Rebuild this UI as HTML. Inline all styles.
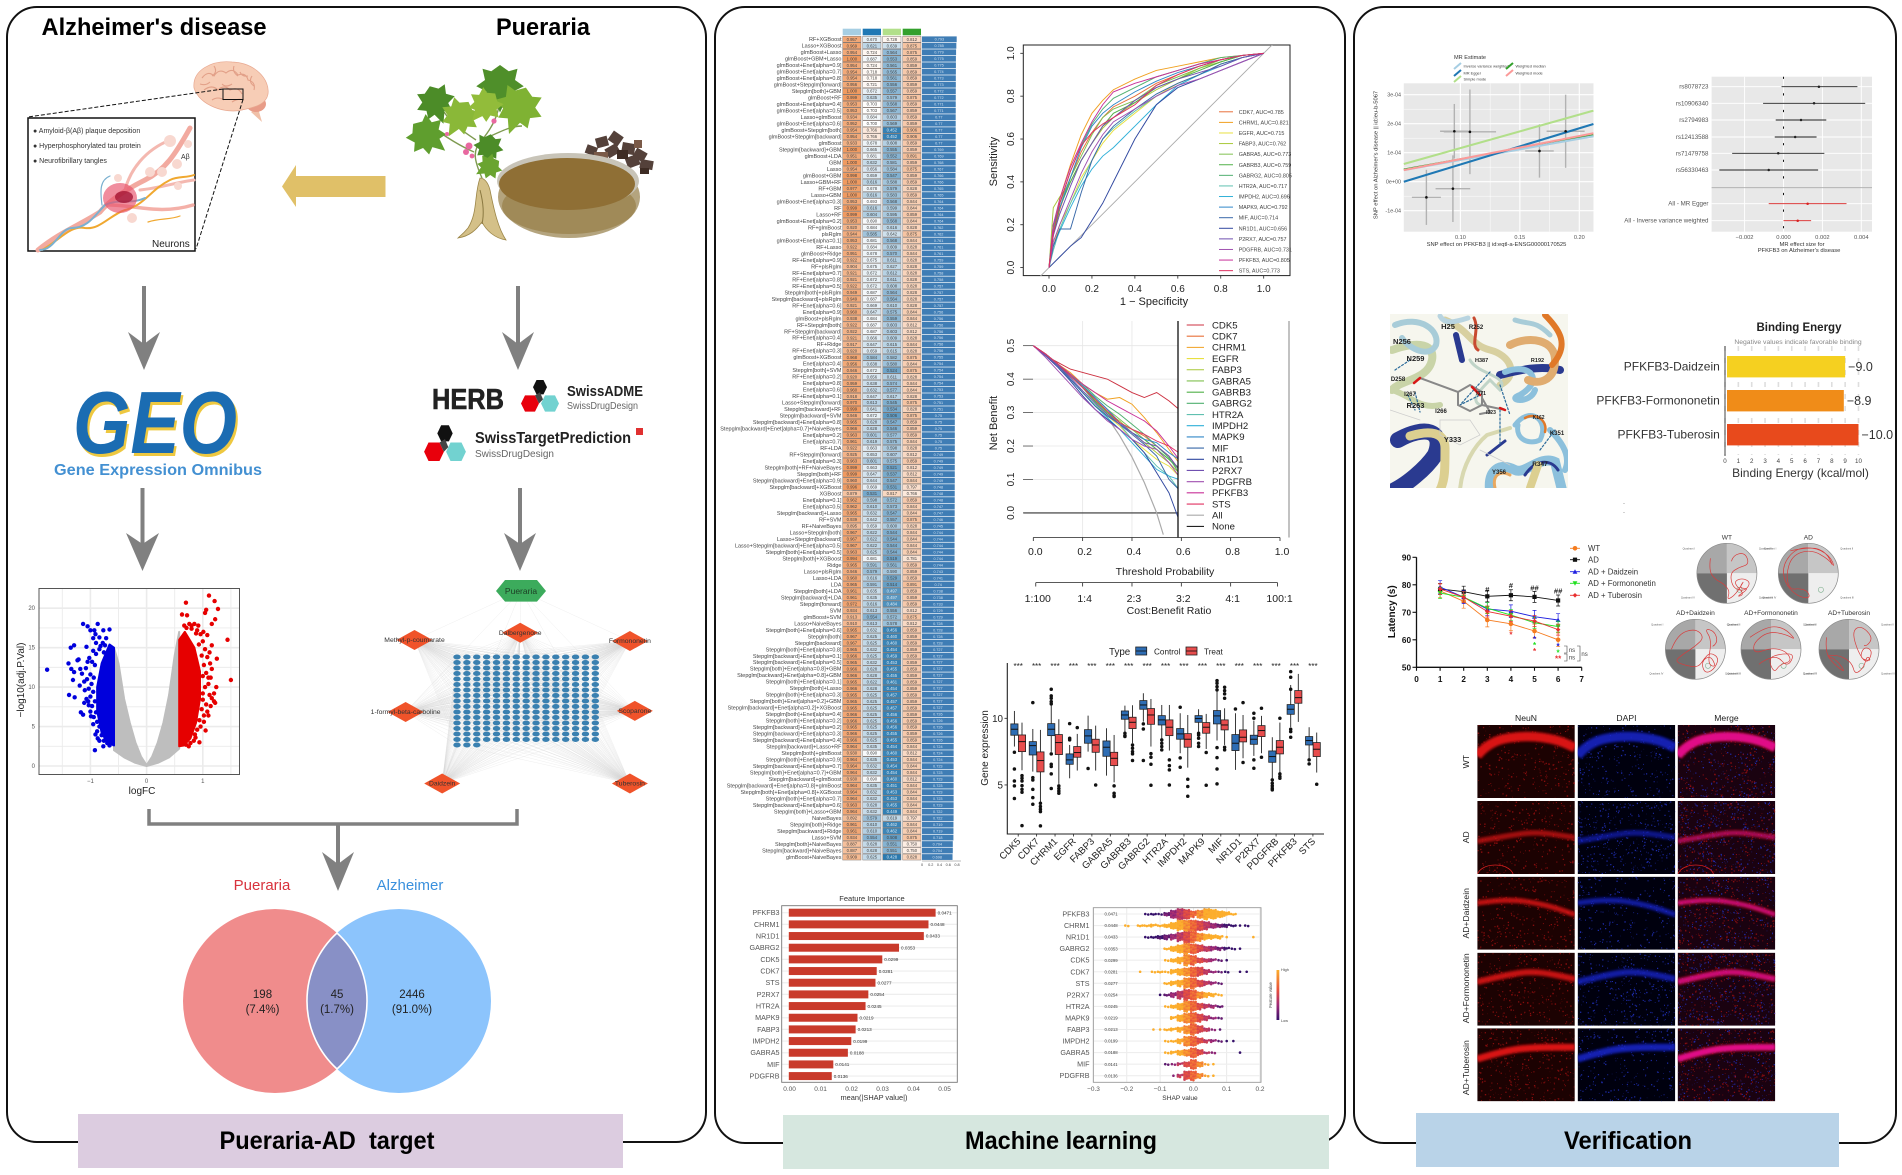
<!DOCTYPE html>
<html lang="en">
<head>
<meta charset="utf-8">
<title>Pueraria-AD target, machine learning and verification figure</title>
<style>
html,body{margin:0;padding:0;background:#fff;}
svg{display:block;font-family:"Liberation Sans",Arial,sans-serif;}
</style>
</head>
<body>
<svg id="figure" xmlns="http://www.w3.org/2000/svg" width="1902" height="1175" viewBox="0 0 1902 1175">
<defs>
<filter id="blur1" x="-20%" y="-50%" width="140%" height="200%"><feGaussianBlur stdDeviation="1"/></filter>
<linearGradient id="shap-gradient" x1="0" y1="0" x2="0" y2="1"><stop offset="0" stop-color="#fcae2c"/><stop offset=".4" stop-color="#e8503c"/><stop offset=".7" stop-color="#a02a78"/><stop offset="1" stop-color="#35106a"/></linearGradient>
<path id="leaf-shape" d="M0,-20 L7,-15 L14,-17 L12,-8 L19,-3 L11,1 L12,9 L5,7 L0,18 L-5,7 L-12,9 L-11,1 L-19,-3 L-12,-8 L-14,-17 L-7,-15 Z"/>
<g id="swiss-logo"><polygon points="13,9 16.5,2 23.5,2 27,9 23.5,16 16.5,16" fill="#111"/><polygon points="1,25 5,17 15,17 19,25 15,33 5,33" fill="#e8000c"/><polygon points="21,25 25,17 35,17 39,25 35,33 25,33" fill="#72d2d0"/><polygon points="15,17 20,14 23,21 19,25" fill="#444"/></g>
<clipPath id="dock-clip"><rect x="1390" y="314" width="178" height="174"/></clipPath>
<clipPath id="roc-clip"><rect x="1023" y="45" width="267" height="231"/></clipPath>
</defs>
<rect width="1902" height="1175" fill="#fff"/>

<rect x="7" y="7" width="699" height="1135" rx="30" fill="#fff" stroke="#111" stroke-width="2"/>
<rect x="715" y="7" width="630" height="1136" rx="30" fill="#fff" stroke="#111" stroke-width="2"/>
<rect x="1354" y="7" width="542" height="1136" rx="30" fill="#fff" stroke="#111" stroke-width="2"/>

<g>
<rect x="78" y="1114" width="545" height="54" fill="#dccce0"/>
<text x="327" y="1149" text-anchor="middle" font-size="25" font-weight="700" textLength="215" lengthAdjust="spacingAndGlyphs" xml:space="preserve">Pueraria-AD  target</text>
<rect x="783" y="1115" width="546" height="54" fill="#d6e7df"/>
<text x="1061" y="1149" text-anchor="middle" font-size="25" font-weight="700" textLength="192" lengthAdjust="spacingAndGlyphs">Machine learning</text>
<rect x="1416" y="1113" width="423" height="54" fill="#b9d3e8"/>
<text x="1628" y="1149" text-anchor="middle" font-size="25" font-weight="700" textLength="128" lengthAdjust="spacingAndGlyphs">Verification</text>
</g>

<text x="154" y="35" text-anchor="middle" font-size="24" font-weight="700" textLength="225" lengthAdjust="spacingAndGlyphs">Alzheimer's disease</text>
<text x="543" y="35" text-anchor="middle" font-size="24" font-weight="700" textLength="94" lengthAdjust="spacingAndGlyphs">Pueraria</text>

<g>
<path d="M251,112 L262,122 L258,108 Z" fill="#f0c0a8"/>
<ellipse cx="256" cy="104" rx="10" ry="8" fill="#e89c88"/>
<path d="M194,88 C192,70 212,60 232,62 C256,63 270,80 268,94 C266,106 250,108 242,110 C226,114 200,106 194,88Z" fill="#f7cdb6" stroke="#e8a890" stroke-width=".7"/>
<path d="M202,78 q6,-8 12,-2 q5,-8 12,-3 q7,-6 12,2 q8,-3 10,5 q8,2 6,10 M204,90 q8,-6 14,0 q6,-6 12,0 q8,-4 12,4 M214,66 q4,6 -2,10 M234,66 q-2,6 4,10 M252,76 q-4,6 2,10 M200,84 q6,2 10,-2 M222,84 q4,4 10,0 M240,72 q2,5 8,4 M212,100 q6,-4 12,0 M232,102 q6,-4 12,-2" fill="none" stroke="#e2a088" stroke-width="1.1"/>
<rect x="223" y="89" width="20" height="10.5" fill="none" stroke="#111" stroke-width="1"/>
<line x1="223" y1="89" x2="28" y2="117" stroke="#111" stroke-width="1" stroke-dasharray="4 2"/>
<line x1="243" y1="99.5" x2="196" y2="249" stroke="#111" stroke-width="1" stroke-dasharray="4 2"/>
</g>

<g>
<rect x="28" y="118" width="167" height="133" fill="#fff" stroke="#111" stroke-width="1.5"/>
<g fill="none" stroke-linecap="round">
<path d="M38,250 C60,232 80,225 100,212 C110,200 125,190 145,180 C165,170 175,155 190,128" stroke="#f2aaa0" stroke-width="5"/>
<path d="M110,205 C135,205 160,215 193,205" stroke="#f4b0a8" stroke-width="3.5"/>
<path d="M125,190 C130,170 145,150 170,140" stroke="#f4b8b0" stroke-width="3"/>
<path d="M140,190 C160,188 178,182 194,180" stroke="#f4b8b0" stroke-width="3"/>
<path d="M42,250 C60,240 70,225 85,228 C100,230 110,215 125,210 C145,205 150,190 170,180 C178,176 186,178 194,175" stroke="#f0a830" stroke-width="2"/>
<path d="M40,250 C55,250 60,228 72,228 C88,228 95,215 105,205 C120,198 130,205 145,198" stroke="#7ab0d0" stroke-width="2"/>
<path d="M102,205 C100,190 100,180 110,176" stroke="#7ab0d0" stroke-width="1.2"/>
<path d="M148,222 C160,218 170,220 180,216" stroke="#f0a830" stroke-width="1.2"/>
</g>
<ellipse cx="120" cy="198" rx="17" ry="15" fill="#e8506a" opacity=".65"/>
<ellipse cx="124" cy="197" rx="9" ry="6" fill="#a01030" opacity=".75"/>
<g fill="#f8d8d0"><circle cx="170" cy="141" r="6"/><circle cx="150" cy="172" r="5"/><circle cx="162" cy="172" r="5"/><circle cx="177" cy="164" r="5"/><circle cx="188" cy="144" r="4"/><circle cx="118" cy="178" r="4"/><circle cx="132" cy="218" r="5"/><circle cx="178" cy="186" r="4"/></g>
<text x="33" y="133" font-size="7" fill="#333">● Amyloid-β(Aβ) plaque deposition</text>
<text x="33" y="148" font-size="7" fill="#333">● Hyperphosphorylated  tau protein</text>
<text x="33" y="163" font-size="7" fill="#333">● Neurofibrillary tangles</text>
<text x="181" y="159" font-size="7" fill="#333">Aβ</text>
<text x="152" y="247" font-size="10" fill="#222">Neurons</text>
</g>

<polygon points="385.5,176 296,176 296,165 282,186.5 296,207 296,197 385.5,197" fill="#e0c068"/>

<g>
<path d="M482,178 C474,160 472,150 482,140 C490,130 498,118 500,100 M474,152 C460,146 448,138 436,130 M476,140 C464,132 452,124 444,112 M482,140 C500,132 510,126 522,126" fill="none" stroke="#7e9a50" stroke-width="1.4"/>
<g>
<use href="#leaf-shape" transform="translate(500,90) scale(1.25)" fill="#4f8f2a"/>
<use href="#leaf-shape" transform="translate(517,112) scale(1.3) rotate(20)" fill="#7fb233"/>
<use href="#leaf-shape" transform="translate(437,106) scale(1.05) rotate(-20)" fill="#4c8c28"/>
<use href="#leaf-shape" transform="translate(458,120) scale(1.05) rotate(30)" fill="#8ab838"/>
<use href="#leaf-shape" transform="translate(430,138) scale(1.1) rotate(-50)" fill="#5f9e2e"/>
<use href="#leaf-shape" transform="translate(488,150) scale(.8) rotate(10)" fill="#4c8c28"/>
<use href="#leaf-shape" transform="translate(487,168) scale(.7) rotate(60)" fill="#6aa430"/>
<use href="#leaf-shape" transform="translate(483,108) scale(.95) rotate(40)" fill="#92bc3a"/>
</g>
<g fill="#e868a0"><circle cx="469" cy="146" r="3.5"/><circle cx="466" cy="152" r="3"/><circle cx="472" cy="156" r="2.4"/><circle cx="494" cy="121" r="2.6"/><circle cx="447" cy="134" r="2"/></g>
<path d="M480,178 C474,195 478,212 468,228 C463,234 460,236 458,238 C470,236 476,230 482,222 C486,230 494,238 506,240 C498,228 494,210 490,190 C488,182 484,178 480,178Z" fill="#d4c088" stroke="#9c8648" stroke-width=".8"/>
<path d="M480,190 C484,205 484,215 482,224" fill="none" stroke="#8a7840" stroke-width="1"/>
<g fill="#54413a"><rect x="586" y="146" width="11" height="9" transform="rotate(20 592 150)"/><rect x="596" y="137" width="12" height="10" transform="rotate(-15 602 142)"/><rect x="610" y="133" width="12" height="11" transform="rotate(35 616 138)"/><rect x="622" y="143" width="13" height="11" transform="rotate(10 628 148)"/><rect x="606" y="146" width="13" height="10" transform="rotate(-30 612 151)"/><rect x="634" y="150" width="12" height="10" transform="rotate(30 640 155)"/><rect x="626" y="156" width="13" height="11" transform="rotate(-20 632 161)"/><rect x="640" y="160" width="13" height="9" transform="rotate(10 646 165)"/><rect x="594" y="152" width="14" height="7" fill="#7a5a48"/><rect x="617" y="150" width="11" height="9" fill="#3e2c24"/><rect x="634" y="140" width="8" height="8" fill="#7a5a48"/><rect x="640" y="168" width="9" height="6" fill="#3e2c24"/></g>
<ellipse cx="569" cy="197" rx="71" ry="41" fill="#b4a47e"/>
<ellipse cx="569" cy="206" rx="67" ry="28" fill="#a08a58"/>
<ellipse cx="568" cy="181" rx="71" ry="28" fill="#c8c4b8"/>
<ellipse cx="567" cy="184" rx="68" ry="26" fill="#8f6f35"/>
</g>

<g fill="#808080" stroke="none">
<g><rect x="142" y="286" width="4" height="60"/><polygon points="128,332 144,344 160,332 144,370"/></g>
<g><rect x="140.5" y="488" width="4" height="60"/><polygon points="126,533 142.5,544 159,533 142.5,571"/></g>
<g><rect x="516" y="286" width="4" height="60"/><polygon points="502,332 518,344 534,332 518,370"/></g>
<g><rect x="518" y="488" width="4" height="60"/><polygon points="504,533 520,544 536,533 520,571"/></g>
<path d="M149,809 V824 H517 V809" fill="none" stroke="#808080" stroke-width="3.5"/>
<g><rect x="336" y="824" width="4" height="40"/><polygon points="322,852 338,864 354,852 338,891"/></g>
</g>

<g>
<text x="157" y="456" text-anchor="middle" font-size="88" font-weight="700" fill="#eec840" textLength="164" lengthAdjust="spacingAndGlyphs" font-style="italic">GEO</text>
<text x="155" y="453" text-anchor="middle" font-size="88" font-weight="700" fill="#1b6cb2" textLength="164" lengthAdjust="spacingAndGlyphs" font-style="italic">GEO</text>
<text x="158" y="475" text-anchor="middle" font-size="16" font-weight="700" fill="#4390d2" textLength="208" lengthAdjust="spacingAndGlyphs">Gene Expression Omnibus</text>
</g>

<g>
<text x="432" y="409" font-size="29" font-weight="700" fill="#222" textLength="72" lengthAdjust="spacingAndGlyphs" stroke="#222" stroke-width=".6">HERB</text>
<use href="#swiss-logo" transform="translate(520,378) scale(1,1.02)"/>
<text x="567" y="396" font-size="15" font-weight="700" fill="#222" textLength="76" lengthAdjust="spacingAndGlyphs">SwissADME</text>
<text x="567" y="409" font-size="10.5" fill="#666" textLength="71" lengthAdjust="spacingAndGlyphs">SwissDrugDesign</text>
<use href="#swiss-logo" transform="translate(423,423) scale(1.1,1.15)"/>
<text x="475" y="443" font-size="15.5" font-weight="700" fill="#222" textLength="156" lengthAdjust="spacingAndGlyphs">SwissTargetPrediction</text>
<text x="475" y="457" font-size="10.5" fill="#666" textLength="79" lengthAdjust="spacingAndGlyphs">SwissDrugDesign</text>
<rect x="636" y="428" width="7" height="7" fill="#e03030"/>
</g>

<g id="volcano"></g>
<g id="network"></g>

<g>
<text x="262" y="890" text-anchor="middle" font-size="15" fill="#d8323c">Pueraria</text>
<text x="410" y="890" text-anchor="middle" font-size="15" fill="#3a90dd">Alzheimer</text>
<circle cx="275" cy="1001" r="92" fill="#f08c8c"/>
<circle cx="399" cy="1001" r="92" fill="#8cc4fc"/>
<path d="M337,933 A92,92 0 0 1 337,1069 A92,92 0 0 1 337,933Z" fill="#8890c6" stroke="#fff" stroke-width="1.6"/>
<g font-size="11.5" text-anchor="middle" fill="#222">
<text x="262.5" y="998">198</text>
<text x="262.5" y="1013">(7.4%)</text>
<text x="337" y="998">45</text>
<text x="337" y="1013">(1.7%)</text>
<text x="412" y="998">2446</text>
<text x="412" y="1013">(91.0%)</text>
</g>
</g>

<g id="heatmap"></g>
<g id="roc"></g>
<g id="dca"></g>
<g id="boxplot"></g>
<g id="importance"></g>
<g id="shap"></g>
<g id="mrscatter"></g>
<g id="forest"></g>

<g clip-path="url(#dock-clip)">
<rect x="1390" y="314" width="178" height="174" fill="#f6f6ee"/>
<g fill="none" stroke-linecap="round">
<path d="M1392,350 C1420,340 1435,345 1432,360 C1428,380 1400,380 1392,390" stroke="#c9d4a8" stroke-width="8"/>
<path d="M1395,325 C1420,315 1440,330 1436,345 C1430,358 1410,350 1402,338" stroke="#a8ccd8" stroke-width="6"/>
<path d="M1445,320 C1470,330 1470,345 1490,350 C1510,355 1520,375 1500,385" stroke="#d8d0a0" stroke-width="7"/>
<path d="M1456,335 L1462,360" stroke="#2a3a90" stroke-width="6"/>
<path d="M1474,318 C1480,330 1470,345 1478,350" stroke="#c84a30" stroke-width="3"/>
<path d="M1440,316 C1445,325 1455,322 1468,318" stroke="#b8d4e0" stroke-width="5"/>
<path d="M1500,375 C1520,370 1540,365 1560,370" stroke="#2a3a90" stroke-width="8"/>
<path d="M1505,372 C1530,362 1545,380 1520,395 C1505,400 1530,405 1535,390" stroke="#8cc0dc" stroke-width="6"/>
<path d="M1510,345 C1530,335 1555,340 1555,360 C1555,380 1540,385 1528,380" stroke="#e0ac70" stroke-width="8"/>
<path d="M1545,315 C1560,330 1570,345 1552,365" stroke="#e07828" stroke-width="6"/>
<path d="M1515,320 C1530,325 1535,320 1550,335" stroke="#a8ccd8" stroke-width="5"/>
<path d="M1515,425 C1530,405 1550,420 1540,440 C1530,445 1515,440 1518,425" stroke="#8cc0dc" stroke-width="5"/>
<path d="M1525,418 C1535,412 1548,420 1545,432" stroke="#e07828" stroke-width="2.5"/>
<path d="M1550,430 C1560,440 1572,455 1565,470" stroke="#8cc0dc" stroke-width="6"/>
<path d="M1392,390 C1410,395 1420,410 1440,405" stroke="#c9d4a8" stroke-width="6"/>
<path d="M1398,440 C1425,425 1445,430 1435,455 C1425,470 1405,485 1395,490" stroke="#2a3a90" stroke-width="16"/>
<path d="M1410,436 C1430,430 1445,432 1445,448 C1445,470 1445,480 1440,490" stroke="#dccf90" stroke-width="9"/>
<path d="M1460,490 C1462,465 1475,445 1487,435 L1510,428" stroke="#d8d8b0" stroke-width="4"/>
<path d="M1487,455 L1505,441" stroke="#2a3a90" stroke-width="3"/>
<path d="M1490,490 C1488,470 1500,462 1515,470 C1525,475 1540,455 1555,462 L1562,490" stroke="#8cc0dc" stroke-width="10"/>
<path d="M1525,475 C1535,460 1550,458 1558,470" stroke="#2a3a90" stroke-width="3"/>
<path d="M1495,488 C1492,475 1500,470 1510,475" stroke="#e8a860" stroke-width="3"/>
<path d="M1530,488 L1538,465" stroke="#dccf90" stroke-width="8"/>
<path d="M1470,360 C1478,375 1510,375 1500,390 L1490,380 C1480,390 1470,400 1480,405" stroke="#c0d4c8" stroke-width="3"/>
<path d="M1395,370 L1410,360 M1490,372 L1460,405 L1480,395 M1500,385 L1510,415 M1500,410 L1500,445 M1408,395 L1415,410 M1415,392 L1420,412 M1540,450 L1555,430" stroke="#2a6a9a" stroke-width="1.2" stroke-dasharray="2 2"/>
<path d="M1420,378 L1458,392 L1470,385 L1482,392 L1482,405 L1470,411 L1458,405 L1458,392 M1482,398 L1490,412 L1480,414 M1482,405 L1505,410" stroke="#888" stroke-width="2"/>
<path d="M1420,378 L1414,383 M1505,410 L1500,408 M1472,387 L1480,395" stroke="#d81818" stroke-width="2.5"/>
<path d="M1440,420 L1470,420 L1480,435 L1460,445 L1440,435Z M1390,410 L1420,420 M1480,450 L1510,465" stroke="#ccc" stroke-width=".7"/>
</g>
<g font-size="7.5" font-weight="700" fill="#222" text-anchor="middle">
<text x="1448" y="329">H25</text>
<text x="1476" y="329" font-size="6">R252</text>
<text x="1402" y="344">N256</text>
<text x="1415.5" y="361">N259</text>
<text x="1398" y="381" font-size="6">D258</text>
<text x="1410" y="396" font-size="6">I267</text>
<text x="1415.5" y="408">R263</text>
<text x="1441" y="413" font-size="6">I266</text>
<text x="1452.6" y="442">Y333</text>
<text x="1499" y="474" font-size="6">Y356</text>
<text x="1540" y="466" font-size="6.5">R347</text>
<text x="1557" y="435" font-size="6">K351</text>
<text x="1538.6" y="419" font-size="5">K162</text>
<text x="1537.5" y="362" font-size="5.5">R192</text>
<text x="1481.6" y="362" font-size="5.5">H387</text>
<text x="1491" y="414" font-size="5">I323</text>
<text x="1481" y="395" font-size="5">I371</text>
</g>
</g>

<g id="binding"></g>
<text x="1624" y="505" font-size="6" text-anchor="middle">·</text>
<text x="1624" y="514" font-size="6" text-anchor="middle">·</text>
<g id="morris"></g>
<g id="maze"></g>
<g id="micro"></g>
</svg>

<script>
/* ---------- volcano data ---------- */
const volcanoXTicks = [-1, 0, 1];
const volcanoYTicks = [0, 5, 10, 15, 20];
const volcanoGrayOutline = [[-0.58,2],[-0.58,15],[-0.5,13],[-0.4,8.5],[-0.3,5.5],[-0.2,3],[-0.1,1.2],[0,0.1],[0.1,1.2],[0.2,3],[0.3,5.5],[0.4,9],[0.5,14],[0.58,17],[0.58,2.2],[0.4,1.1],[0.2,0.4],[0,0],[-0.2,0.4],[-0.4,1.1]];
const volcanoBlueOutline = [[-0.58,2.6],[-0.58,15],[-0.66,15.4],[-0.8,13],[-0.88,10],[-0.88,7],[-0.8,4.2],[-0.7,3]];
const volcanoRedOutline = [[0.58,2.5],[0.58,16],[0.68,17],[0.85,15],[0.95,12],[0.95,8.5],[0.88,5.5],[0.78,3.5],[0.66,2.6]];
const volcanoBluePoints = [[-1.77,12.2],[-1.13,18],[-1.05,17.7],[-0.87,18],[-0.93,17.2],[-1,17.2],[-0.77,17.2],[-0.66,17.3],[-0.91,16.7],[-0.84,16.3],[-0.95,16.2],[-1.29,15.3],[-1.35,15],[-1.39,13],[-1.34,12.3],[-1.29,11.9],[-1.18,12.3],[-1.23,13.4],[-1.21,13.5],[-1.38,9],[-1.28,8.7],[-1.17,6.8],[-1.13,6.5],[-0.92,2],[-0.77,2.5],[-0.66,2.6],[-1.31,10.9],[-1.15,11.7],[-1.11,10.7],[-1.19,10.2],[-1.07,8.5],[-1.03,7.7],[-1.11,8],[-0.99,6.3],[-0.95,5.3],[-0.91,4],[-0.87,3.5],[-1.07,15.1],[-0.95,14.6],[-0.74,15.3],[-0.7,14.3],[-1.05,13.2],[-1.08,12.4],[-1.02,13.7],[-0.9,14.2],[-0.84,14.8],[-0.78,15.6],[-0.72,16.2],[-0.97,13.2],[-0.92,12.8],[-1,11.6],[-0.94,11.2],[-0.98,10.4],[-1.03,9.8],[-0.95,9.4],[-1,8.8],[-0.92,8.2],[-0.97,7.6],[-0.9,6.8],[-0.94,6.2],[-0.88,5.6],[-0.84,5],[-0.88,4.4],[-0.8,3.9],[-0.76,3.2],[-0.84,3.2],[-0.7,2.9],[-0.9,15.6],[-0.82,15.2],[-0.76,14.4],[-1.06,11],[-1.1,9.6],[-1.04,8.2],[-1,6.9]];
const volcanoRedPoints = [[1.11,21.6],[1.21,20.9],[0.7,20.7],[1.27,19.9],[1.06,19.8],[1.04,19.4],[0.63,19.2],[0.72,19.1],[1.22,18.6],[1.16,18],[0.71,17.5],[0.96,16.7],[1.44,16],[1.16,15.3],[1.25,13.6],[1.5,10.9],[1.24,10],[1.2,8.2],[1.1,6.4],[1.05,4.5],[0.75,2.5],[1.2,9.2],[1,9.2],[1.12,14.4],[1.08,16.6],[1.22,8],[1.14,7.6],[1.1,11.2],[1.16,12.3],[1.13,13],[0.85,18],[0.8,17.8],[0.9,17.2],[1.01,17],[0.94,3],[0.87,3.6],[1.02,5.6],[0.8,17.4],[0.88,16.8],[0.93,15.4],[1,15.8],[1.04,14.8],[0.98,14],[1.08,13.8],[1.02,12.8],[1.06,11.8],[1,11.4],[1.1,10.4],[1.04,10],[1,8.4],[1.06,7.8],[0.98,7.2],[1.02,6.4],[0.94,5.8],[0.96,5],[0.9,4.6],[0.86,4],[0.84,3.2],[0.78,2.9],[0.7,2.7],[0.76,18],[0.67,17.8],[1.12,9],[1.16,8.6],[1.08,6.9],[1.14,11.2],[0.92,17.8]];
const volcanoGridX = [-1.5,-1,-0.5,0,0.5,1,1.5];
const volcanoGridY = [0,2.5,5,7.5,10,12.5,15,17.5,20];

/* ---------- network data ---------- */
const networkCompounds = ['Methyl-p-coumarate','Dalbergenone','Formononetin','1-formyl-beta-carboline','Scoparone','Daidzein','Tuberosin'];
const networkCompoundColumn = [-4.3,6.4,17.5,-5.2,18,-1.5,17.5];
const networkCompoundRow = [-3.1,-4.4,-2.9,10,9.8,23,23];
const networkTargetCount = 243;
const networkColumns = 15;

/* ---------- heatmap data ---------- */
const heatHeaderColors = ['#a6cee3','#1f78b4','#b2df8a','#33a02c'];
const heatBarTicks = [0,0.2,0.4,0.6,0.8];
const heatModels = ['RF+XGBoost','Lasso+XGBoost','glmBoost+Lasso','glmBoost+GBM+Lasso','glmBoost+Enet[alpha=0.9]','glmBoost+Enet[alpha=0.7]','glmBoost+Enet[alpha=0.8]','glmBoost+Stepglm[forward]','Stepglm[both]+GBM','glmBoost+RF','glmBoost+Enet[alpha=0.4]','glmBoost+Enet[alpha=0.5]','Lasso+glmBoost','glmBoost+Enet[alpha=0.6]','glmBoost+Stepglm[both]','glmBoost+Stepglm[backward]','glmBoost','Stepglm[backward]+GBM','glmBoost+LDA','GBM','Lasso','glmBoost+GBM','Lasso+GBM+RF','RF+GBM','Lasso+GBM','glmBoost+Enet[alpha=0.3]','RF','Lasso+RF','glmBoost+Enet[alpha=0.2]','RF+glmBoost','plsRglm','glmBoost+Enet[alpha=0.1]','RF+Lasso','glmBoost+Ridge','RF+Enet[alpha=0.9]','RF+plsRglm','RF+Enet[alpha=0.7]','RF+Enet[alpha=0.8]','RF+Enet[alpha=0.5]','Stepglm[both]+plsRglm','Stepglm[backward]+plsRglm','RF+Enet[alpha=0.6]','Enet[alpha=0.9]','glmBoost+plsRglm','RF+Stepglm[both]','RF+Stepglm[backward]','RF+Enet[alpha=0.4]','RF+Ridge','RF+Enet[alpha=0.3]','glmBoost+XGBoost','Enet[alpha=0.4]','Stepglm[both]+SVM','RF+Enet[alpha=0.2]','Enet[alpha=0.8]','Enet[alpha=0.6]','RF+Enet[alpha=0.1]','Lasso+Stepglm[forward]','Stepglm[backward]+RF','Stepglm[backward]+SVM','Stepglm[backward]+Enet[alpha=0.8]','Stepglm[backward]+Enet[alpha=0.7]+NaiveBayes','Enet[alpha=0.2]','Enet[alpha=0.7]','RF+LDA','RF+Stepglm[forward]','Enet[alpha=0.3]','Stepglm[both]+RF+NaiveBayes','Stepglm[both]+RF','Stepglm[backward]+Enet[alpha=0.9]','Stepglm[backward]+XGBoost','XGBoost','Enet[alpha=0.1]','Enet[alpha=0.5]','Stepglm[backward]+Lasso','RF+SVM','RF+NaiveBayes','Lasso+Stepglm[both]','Lasso+Stepglm[backward]','Lasso+Stepglm[backward]+Enet[alpha=0.5]','Stepglm[both]+Enet[alpha=0.5]','Stepglm[both]+XGBoost','Ridge','Lasso+plsRglm','Lasso+LDA','LDA','Stepglm[both]+LDA','Stepglm[backward]+LDA','Stepglm[forward]','SVM','glmBoost+SVM','Lasso+NaiveBayes','Stepglm[both]+Enet[alpha=0.6]','Stepglm[both]','Stepglm[backward]','Stepglm[both]+Enet[alpha=0.8]','Stepglm[backward]+Enet[alpha=0.1]','Stepglm[backward]+Enet[alpha=0.5]','Stepglm[both]+Enet[alpha=0.8]+GBM','Stepglm[backward]+Enet[alpha=0.8]+GBM','Stepglm[both]+Enet[alpha=0.1]','Stepglm[both]+Lasso','Stepglm[both]+Enet[alpha=0.3]','Stepglm[both]+Enet[alpha=0.2]+GBM','Stepglm[backward]+Enet[alpha=0.2]+XGBoost','Stepglm[both]+Enet[alpha=0.4]','Stepglm[both]+Enet[alpha=0.2]','Stepglm[backward]+Enet[alpha=0.2]','Stepglm[backward]+Enet[alpha=0.3]','Stepglm[backward]+Enet[alpha=0.4]','Stepglm[backward]+Lasso+RF','Stepglm[both]+glmBoost','Stepglm[both]+Enet[alpha=0.9]','Stepglm[backward]+Enet[alpha=0.7]','Stepglm[both]+Enet[alpha=0.7]+GBM','Stepglm[backward]+glmBoost','Stepglm[backward]+Enet[alpha=0.8]+glmBoost','Stepglm[both]+Enet[alpha=0.8]+XGBoost','Stepglm[both]+Enet[alpha=0.7]','Stepglm[backward]+Enet[alpha=0.6]','Stepglm[both]+Lasso+GBM','NaiveBayes','Stepglm[both]+Ridge','Stepglm[backward]+Ridge','Lasso+SVM','Stepglm[both]+NaiveBayes','Stepglm[backward]+NaiveBayes','glmBoost+NaiveBayes'];
const heatCohortA = [.957,.969,.954,1,.954,.954,.954,.956,1,.999,.953,.953,.934,.952,.954,.954,.933,1,.951,1,.954,.998,1,.977,1,.953,.999,.999,.953,.920,.944,.953,.922,.951,.922,.904,.921,.921,.922,.949,.949,.921,.960,.938,.922,.922,.921,.917,.920,.968,.956,.946,.920,.959,.960,.918,.970,.999,.946,.965,.966,.963,.961,.922,.925,.963,.999,.999,.960,.996,.879,.962,.962,.965,.939,.895,.967,.967,.967,.963,.994,.965,.946,.960,.965,.961,.961,.972,.934,.913,.910,.965,.967,.967,.965,.966,.965,.966,.966,.965,.966,.965,.965,.965,.966,.966,.965,.966,.966,.964,.930,.964,.964,.964,.930,.964,.964,.964,.963,.964,.892,.961,.961,.934,.887,.887,.909];
const heatCohortB = [.670,.621,.724,.687,.724,.718,.718,.721,.672,.635,.703,.703,.684,.700,.766,.766,.678,.665,.681,.632,.656,.659,.616,.678,.616,.693,.616,.604,.690,.684,.585,.681,.684,.678,.675,.675,.672,.672,.672,.687,.687,.669,.647,.684,.687,.687,.666,.647,.659,.584,.638,.672,.656,.638,.632,.647,.613,.641,.672,.628,.628,.601,.619,.663,.653,.601,.663,.647,.644,.669,.531,.598,.610,.632,.642,.659,.622,.622,.622,.625,.681,.591,.579,.616,.591,.635,.635,.616,.613,.554,.613,.632,.625,.625,.632,.625,.632,.628,.628,.622,.628,.625,.625,.625,.625,.625,.625,.625,.625,.635,.690,.635,.632,.632,.690,.635,.632,.632,.628,.632,.579,.610,.610,.554,.628,.628,.625];
const heatCohortC = [.728,.639,.564,.553,.561,.565,.561,.556,.557,.579,.568,.567,.603,.569,.452,.452,.608,.555,.552,.581,.584,.547,.588,.579,.583,.568,.599,.595,.568,.616,.642,.568,.609,.570,.611,.627,.612,.611,.608,.564,.564,.610,.575,.559,.603,.603,.609,.615,.615,.582,.580,.524,.611,.574,.577,.617,.545,.534,.506,.547,.546,.577,.575,.598,.607,.575,.521,.537,.547,.531,.817,.572,.573,.547,.557,.600,.544,.544,.544,.544,.519,.561,.590,.529,.514,.497,.497,.484,.556,.572,.578,.456,.460,.460,.454,.459,.453,.455,.455,.461,.454,.457,.457,.457,.456,.456,.456,.455,.455,.454,.460,.453,.454,.454,.460,.451,.453,.453,.455,.449,.619,.462,.462,.508,.551,.551,.428];
const heatCohortD = [.812,.875,.875,.859,.859,.859,.859,.859,.859,.875,.859,.859,.859,.859,.906,.906,.859,.859,.891,.859,.875,.859,.859,.828,.859,.844,.844,.859,.844,.828,.875,.844,.828,.844,.828,.828,.828,.828,.828,.828,.828,.828,.844,.844,.812,.812,.828,.844,.828,.875,.844,.875,.828,.844,.844,.828,.875,.828,.875,.859,.859,.859,.844,.828,.812,.859,.812,.812,.844,.797,.766,.859,.844,.844,.875,.828,.844,.844,.844,.844,.781,.859,.859,.859,.891,.859,.859,.859,.812,.875,.812,.859,.859,.859,.859,.859,.859,.859,.859,.859,.859,.859,.859,.859,.859,.859,.859,.859,.859,.844,.812,.844,.844,.844,.812,.844,.844,.844,.844,.844,.797,.844,.844,.875,.750,.750,.828];
const heatMean = [.793,.785,.779,.775,.775,.774,.773,.773,.772,.772,.771,.771,.770,.770,.770,.770,.770,.769,.769,.768,.767,.766,.766,.765,.765,.764,.764,.764,.764,.762,.762,.761,.761,.761,.759,.759,.758,.758,.757,.757,.757,.757,.756,.756,.756,.756,.756,.756,.756,.755,.754,.754,.754,.754,.753,.753,.751,.751,.750,.750,.750,.750,.750,.750,.749,.749,.749,.749,.749,.748,.748,.748,.747,.747,.746,.745,.744,.744,.744,.744,.744,.744,.743,.741,.740,.738,.738,.733,.729,.729,.728,.728,.728,.728,.727,.727,.727,.727,.727,.727,.727,.727,.727,.727,.726,.726,.726,.726,.726,.724,.724,.724,.723,.723,.723,.723,.723,.723,.723,.722,.722,.719,.719,.718,.704,.704,.698];

/* ---------- ROC data ---------- */
const rocTicks = [0,0.2,0.4,0.6,0.8,1];
const rocFpr = [0,.02,.05,.1,.15,.2,.25,.3,.4,.5,.6,.7,.8,.9,1];
const rocGenes = ['CDK7','CHRM1','EGFR','FABP3','GABRA5','GABRB3','GABRG2','HTR2A','IMPDH2','MAPK9','MIF','NR1D1','P2RX7','PDGFRB','PFKFB3','STS'];
const rocAuc = ['0.785','0.821','0.715','0.762','0.773','0.759','0.805','0.717','0.696','0.792','0.714','0.656','0.757','0.731','0.805','0.773'];
const rocColors = ['#e8703a','#f0a020','#e8e040','#a8c838','#80c050','#50b048','#50b070','#60c0b0','#30b0d8','#3088c8','#3868a8','#3048a0','#7050b0','#a050b0','#c83098','#e03060'];
const rocCDK7 = [0,.15,.27,.42,.54,.63,.70,.75,.80,.86,.90,.94,.97,.99,1];
const rocCHRM1 = [0,.18,.32,.48,.62,.72,.78,.83,.88,.92,.94,.96,.98,.99,1];
const rocEGFR = [0,.10,.20,.30,.42,.50,.58,.64,.72,.80,.86,.90,.95,.98,1];
const rocFABP3 = [0,.28,.33,.40,.50,.58,.65,.70,.77,.83,.88,.93,.96,.99,1];
const rocGABRA5 = [0,.20,.30,.42,.52,.62,.70,.74,.78,.85,.89,.93,.97,.99,1];
const rocGABRB3 = [0,.15,.28,.40,.50,.58,.66,.72,.77,.84,.88,.92,.96,.99,1];
const rocGABRG2 = [0,.18,.30,.45,.57,.67,.74,.79,.84,.89,.92,.95,.98,.99,1];
const rocHTR2A = [0,.08,.18,.30,.40,.50,.60,.65,.73,.80,.85,.90,.95,.98,1];
const rocIMPDH2 = [0,.10,.17,.28,.38,.46,.52,.56,.66,.76,.85,.90,.94,.98,1];
const rocMAPK9 = [0,.20,.28,.42,.56,.66,.72,.76,.82,.87,.91,.94,.97,.99,1];
const rocMIF = [0,.10,.18,.18,.35,.50,.60,.66,.74,.81,.86,.90,.95,.98,1];
const rocNR1D1 = [0,.02,.05,.10,.14,.22,.30,.40,.60,.76,.84,.88,.92,.96,1];
const rocP2RX7 = [0,.15,.25,.38,.50,.58,.66,.70,.78,.84,.88,.91,.94,.98,1];
const rocPDGFRB = [0,.12,.20,.32,.44,.54,.62,.68,.74,.80,.85,.88,.92,.96,1];
const rocPFKFB3 = [0,.20,.32,.47,.58,.68,.76,.82,.86,.89,.92,.95,.97,.99,1];
const rocSTS = [0,.16,.30,.45,.57,.63,.67,.70,.76,.85,.90,.94,.97,.99,1];
const rocSeries = [rocCDK7,rocCHRM1,rocEGFR,rocFABP3,rocGABRA5,rocGABRB3,rocGABRG2,rocHTR2A,rocIMPDH2,rocMAPK9,rocMIF,rocNR1D1,rocP2RX7,rocPDGFRB,rocPFKFB3,rocSTS];

/* ---------- decision curve data ---------- */
const dcaThresholds = [0,.05,.1,.15,.2,.25,.3,.35,.4,.45,.5,.55,.59];
const dcaXTicks = [0,0.2,0.4,0.6,0.8,1];
const dcaYTicks = [0,0.1,0.2,0.3,0.4,0.5];
const dcaRatioLabels = ['1:100','1:4','2:3','3:2','4:1','100:1'];
const dcaRatioAt = [0.01,0.2,0.4,0.6,0.8,0.99];
const dcaGenes = ['CDK5','CDK7','CHRM1','EGFR','FABP3','GABRA5','GABRB3','GABRG2','HTR2A','IMPDH2','MAPK9','MIF','NR1D1','P2RX7','PDGFRB','PFKFB3','STS','All','None'];
const dcaColors = ['#cc3040','#e8703a','#f0a020','#e8e040','#a8c838','#80c050','#50b048','#50b070','#60c0b0','#30b0d8','#3088c8','#3868a8','#3048a0','#7050b0','#a050b0','#c83098','#e03060','#aaaaaa','#222222'];
const dcaCDK5 = [.5,.47,.45,.43,.42,.41,.40,.38,.36,.345,.36,.335,.31];
const dcaCDK7 = [.5,.475,.445,.415,.38,.34,.30,.27,.25,.23,.20,.17,.13];
const dcaCHRM1 = [.5,.475,.445,.42,.385,.36,.34,.345,.325,.285,.24,.19,.15];
const dcaEGFR = [.5,.47,.44,.40,.36,.325,.29,.26,.22,.19,.16,.14,.11];
const dcaFABP3 = [.5,.475,.445,.41,.375,.335,.30,.275,.24,.21,.18,.15,.12];
const dcaGABRA5 = [.5,.475,.445,.415,.38,.345,.31,.28,.25,.22,.19,.16,.13];
const dcaGABRB3 = [.5,.475,.44,.41,.375,.335,.30,.265,.24,.22,.19,.16,.135];
const dcaGABRG2 = [.5,.475,.445,.415,.385,.35,.32,.295,.265,.235,.20,.165,.12];
const dcaHTR2A = [.5,.47,.44,.40,.36,.325,.295,.265,.22,.18,.14,.11,.07];
const dcaIMPDH2 = [.5,.47,.44,.40,.36,.32,.285,.25,.21,.17,.13,.11,.10];
const dcaMAPK9 = [.5,.475,.445,.41,.38,.345,.31,.27,.24,.22,.21,.18,.16];
const dcaMIF = [.5,.47,.44,.40,.36,.32,.29,.265,.235,.205,.17,.10,.07];
const dcaNR1D1 = [.5,.47,.435,.395,.35,.31,.28,.25,.22,.18,.12,.06,-.02];
const dcaP2RX7 = [.5,.47,.44,.405,.365,.33,.295,.265,.24,.21,.20,.17,.13];
const dcaPDGFRB = [.5,.465,.425,.385,.345,.31,.275,.25,.22,.20,.19,.15,.11];
const dcaPFKFB3 = [.5,.475,.445,.415,.385,.36,.335,.315,.295,.275,.245,.20,.16];
const dcaSTS = [.5,.475,.445,.41,.375,.34,.305,.27,.25,.235,.215,.20,.18];
const dcaSeries = [dcaCDK5,dcaCDK7,dcaCHRM1,dcaEGFR,dcaFABP3,dcaGABRA5,dcaGABRB3,dcaGABRG2,dcaHTR2A,dcaIMPDH2,dcaMAPK9,dcaMIF,dcaNR1D1,dcaP2RX7,dcaPDGFRB,dcaPFKFB3,dcaSTS];
const dcaAllThresholds = [0,.1,.2,.3,.35,.4,.45,.5,.527];
const dcaAllValues = [.5,.444,.375,.286,.231,.167,.091,0,-.065];

/* ---------- boxplot data: [q1, median, q3, low, high] ---------- */
const boxGenes = ['CDK5','CDK7','CHRM1','EGFR','FABP3','GABRA5','GABRB3','GABRG2','HTR2A','IMPDH2','MAPK9','MIF','NR1D1','P2RX7','PDGFRB','PFKFB3','STS'];
const boxYTicks = [5,10];
const boxControl = [[8.73,9.18,9.58,7.88,10.55],[7.25,7.95,8.25,6,9.2],[8.7,9.18,9.6,7.48,11.38],[6.55,6.88,7.33,5.5,8],[8.13,8.68,9.15,7.5,10.2],[7.15,7.83,8.3,5.7,9.25],[9.93,10.25,10.55,9,10.95],[10.68,11,11.33,9.75,11.88],[9.5,9.88,10.2,8.5,11],[8.43,8.83,9.23,7.38,10.38],[9.7,9.98,10.2,9,10.68],[9.58,10.18,10.58,8.33,12.25],[7.58,8.13,8.78,6.13,10.38],[8.05,8.43,8.73,7.18,9.83],[6.7,7.13,7.55,5.5,8.58],[10.3,10.68,11.03,9.33,12.5],[8,8.33,8.63,7,9.33]];
const boxTreat = [[7.5,8.25,8.75,6.1,9.68],[5.98,6.83,7.48,3.7,9.13],[7.28,8.18,8.78,5.08,9.93],[7.08,7.43,7.88,6.08,8.83],[7.45,8,8.43,6.08,9.45],[6.45,7,7.45,5.2,8.75],[9.23,9.7,10.08,8.13,10.98],[9.55,10.25,10.73,7.88,11.45],[8.7,9.33,9.88,7.58,11],[7.83,8.43,8.85,6.3,10.25],[8.88,9.33,9.68,7.7,10.33],[9.13,9.5,9.88,8,10.75],[8.23,8.58,9.13,7,10.25],[8.63,9.08,9.45,7.38,10.18],[7.33,7.83,8.33,5.93,9.68],[11.13,11.55,12.08,9.73,13.33],[7.13,7.68,8.18,5.93,8.93]];
const boxControlOutliers = [[7.45,6.2,5.3,4.93,3.98],[11.18,5.55,5.37,4.67,4.05,3.55],[12.18,11.68,11.5,11.25,11.08,7.33,6.55,6.38,5.83,4.73],[9.6,8.5,8.38],[6.23],[],[8.88,8.7,8.63],[9.58,9.2,6.83],[8.38,8.13,7.88,7.63],[10.83,7.03,6.33],[8.88,8.75,8.5,8.13,7.88],[12.83,12.63,12.38,12.13,7.8,7.05,6.2,5.08],[10.7],[10.38,10,6.88,6.25],[5.38,5.13,4.93,4.75,4.63],[13.5,13.08,12.18,9.18,9,8.58],[6.88,6.58]];
const boxTreatOutliers = [[5.7,5.5,5.3,4.95,4.67,4.45,1.95],[3.63,3.38,3.18,3,1.93],[4.93,4.73,4.55,4.38],[9.3],[5],[4.93,4.38,4.2,4.13],[8,7.75,7.5,7.33,6.83],[7.35,7.08,6.55,4.98],[6.88,6.45,6.13,5],[5.43,4.88,4.15],[7.43,4.98],[12.33,12.08,11.83,11.5,7.83,7.63],[11.18,6.68],[10.75,7.08],[10,5.83,5.63,5.5],[],[5.05]];

/* ---------- feature importance + SHAP data ---------- */
const shapGenes = ['PFKFB3','CHRM1','NR1D1','GABRG2','CDK5','CDK7','STS','P2RX7','HTR2A','MAPK9','FABP3','IMPDH2','GABRA5','MIF','PDGFRB'];
const shapImportance = [.0471,.0448,.0433,.0353,.0299,.0281,.0277,.0254,.0245,.0219,.0213,.0199,.0188,.0141,.0136];
const importanceTicks = [0,.01,.02,.03,.04,.05];
const shapTicks = [-.3,-.2,-.1,0,.1,.2];
const shapBins = [-.22,-.2,-.18,-.16,-.14,-.12,-.1,-.08,-.06,-.04,-.02,0,.02,.04,.06,.08,.1,.12,.14,.16,.18];
const shapDirection = [1,-1,1,-1,-1,-1,-1,1,-1,-1,-1,-1,-1,1,1];
const shapPFKFB3 = [0,0,0,0,2,3,2,6,15,21,18,11,15,20,18,12,7,3,0,0,0];
const shapCHRM1 = [0,2,0,3,3,4,3,6,12,19,21,21,18,14,9,6,5,3,1,2,0];
const shapNR1D1 = [0,0,0,0,2,3,6,8,10,16,21,20,14,10,7,5,1,0,0,0,1];
const shapGABRG2 = [0,0,0,0,0,0,0,3,9,15,20,18,13,9,7,5,4,2,1,0,0];
const shapCDK5 = [0,0,0,0,0,0,0,2,6,11,20,17,9,6,4,2,1,0,0,0,0];
const shapCDK7 = [0,0,0,1,0,2,3,2,7,12,15,18,16,8,3,2,2,0,1,1,0];
const shapSTS = [0,0,0,0,0,0,0,3,7,11,19,20,12,7,4,2,0,0,0,0,0];
const shapP2RX7 = [0,0,0,0,0,0,1,3,8,14,20,18,12,8,5,2,0,0,0,0,0];
const shapHTR2A = [0,0,0,0,0,0,0,2,6,12,20,19,11,7,5,3,0,0,0,0,0];
const shapMAPK9 = [0,0,0,0,0,0,0,0,4,12,18,20,14,8,3,2,0,0,0,0,0];
const shapFABP3 = [0,0,0,0,0,1,1,3,4,8,15,20,13,6,2,1,0,0,0,0,0];
const shapIMPDH2 = [0,0,0,0,0,0,0,2,3,8,18,18,10,5,4,2,1,1,0,0,0];
const shapGABRA5 = [0,0,0,0,0,0,0,2,4,9,12,18,10,3,2,0,0,0,1,0,0];
const shapMIF = [0,0,0,0,0,0,0,2,2,4,9,18,9,2,1,0,0,0,0,0,0];
const shapPDGFRB = [0,0,0,0,0,0,0,0,1,5,16,17,8,2,1,0,0,0,0,0,0];
const shapCounts = [shapPFKFB3,shapCHRM1,shapNR1D1,shapGABRG2,shapCDK5,shapCDK7,shapSTS,shapP2RX7,shapHTR2A,shapMAPK9,shapFABP3,shapIMPDH2,shapGABRA5,shapMIF,shapPDGFRB];

/* ---------- MR data ---------- */
const mrXTicks = [.1,.15,.2];
const mrYTicks = [-1,0,1,2,3];
const mrYLabels = ['-1e-04','0e+00','1e-04','2e-04','3e-04'];
const mrSnpX = [.0714,.0937,.0949,.108,.1665,.1885];
const mrSnpY = [-.54,-.24,1.74,1.72,1.06,1.74];
const mrSnpXErr = [.0122,.0146,.012,.022,.012,.016];
const mrSnpYErr = [.95,1.15,.94,1.46,.92,1.26];
const mrMethods = ['Weighted median','Inverse variance weighted','MR Egger','Simple mode','Weighted mode'];
const mrColors = ['#33a02c','#a6cee3','#1f78b4','#b2df8a','#fb9a99'];
const mrLeftValue = [.42,.40,0,.61,.40];
const mrRightValue = [1.6,1.57,1.99,2.45,1.67];
const mrLineDomain = [.0524,.2119];

const forestLabels = ['rs8078723','rs10906340','rs2794983','rs12413588','rs71479758','rs56330463','','All - MR Egger','All - Inverse variance weighted'];
const forestEstimate = [.00182,.00157,.0009,.0006,-.00027,-.00076,null,.00124,.00073];
const forestLow = [-.0001,-.00105,-.0004,-.00045,-.00264,-.0033,null,-.00076,0];
const forestHigh = [.0038,.0042,.0022,.0017,.0021,.00178,null,.00324,.00142];
const forestTicks = [-.002,0,.002,.004];

/* ---------- binding energy data ---------- */
const bindingPairs = ['PFKFB3-Daidzein','PFKFB3-Formononetin','PFKFB3-Tuberosin'];
const bindingValues = [9,8.9,10];
const bindingColors = ['#f5d020','#f08c18','#e84a1c'];
const bindingTicks = [0,1,2,3,4,5,6,7,8,9,10];

/* ---------- Morris latency data ---------- */
const morrisDays = [1,2,3,4,5,6];
const morrisXTicks = [0,1,2,3,4,5,6,7];
const morrisYTicks = [50,60,70,80,90];
const morrisGroups = ['WT','AD','AD + Daidzein','AD + Formononetin','AD + Tuberosin'];
const morrisColors = ['#f57c20','#111111','#2020e0','#20e020','#e83030'];
const morrisWT = [77.8,74,67.2,65.8,63.2,60];
const morrisAD = [78.5,77.5,75.8,76.2,75.6,74.3];
const morrisDaidzein = [79.2,75.5,71.2,70.4,68.4,67.2];
const morrisFormononetin = [77,75.5,71.5,69,66.2,64.8];
const morrisTuberosin = [78.5,75.5,70.3,68.6,66.8,63.7];
const morrisSeries = [morrisWT,morrisAD,morrisDaidzein,morrisFormononetin,morrisTuberosin];
const morrisError = [2.5,2,2.3,2,2];

/* ---------- maze tracks ---------- */
const mazeTitles = ['WT','AD','AD+Daidzein','AD+Formononetin','AD+Tuberosin'];
const mazeTrackWT = [[-.55,-.5],[-.6,-.1],[-.4,.2],[-.1,.35],[.1,.6],[0,.9],[.3,.7],[.6,.2],[.4,.5],[.75,.5],[.3,.8],[.6,.7],[.2,.3],[.5,.15],[.8,.3],[.6,.6],[.2,.5],[.1,0],[.4,-.2],[.75,-.3],[.6,-.7],[.2,-.6],[.1,-.2]];
const mazeTrackAD = [[-.6,-.75],[.1,-.9],[.6,-.7],[.85,-.2],[.7,-.45],[.1,-.8],[-.55,-.6],[-.75,.1],[-.6,.55],[-.3,.5],[0,.6],[.05,.85],[-.4,.75],[-.8,.3],[-.85,-.3],[-.4,-.85],[.3,-.85],[.8,-.5],[.9,0]];
const mazeTrackDaidzein = [[-.8,0],[-.6,-.5],[0,-.7],[.3,-.4],[0,-.1],[-.4,.15],[-.7,.4],[-.3,.55],[.1,.6],[.3,.3],[.5,.1],[.8,.3],[.6,.7],[.3,.8],[.2,.4],[.5,.2],[.7,.6],[.4,.5],[.55,-.3],[.3,-.7],[.65,-.6],[.75,-.2],[.4,0]];
const mazeTrackFormononetin = [[-.7,-.4],[-.2,-.75],[.4,-.75],[.85,-.3],[.5,-.5],[-.1,-.6],[-.6,-.2],[-.55,.15],[0,-.05],[.5,.05],[.7,.4],[.3,.5],[.1,.8],[-.1,.3],[.3,.15],[.8,.15],[.55,.6],[.2,.2],[-.3,.4],[-.5,.6]];
const mazeTrackTuberosin = [[-.75,-.4],[-.8,.1],[-.5,.5],[-.1,.8],[-.4,.35],[-.8,.2],[-.3,.2],[.1,.45],[.2,.85],[.5,.6],[.6,.2],[.75,.4],[.35,.3],[.5,-.1],[.8,.05],[.6,.5],[.3,.1],[.1,-.6],[.4,-.8],[.8,-.4],[.6,-.1],[.4,-.15]];
const mazeTracks = [mazeTrackWT,mazeTrackAD,mazeTrackDaidzein,mazeTrackFormononetin,mazeTrackTuberosin];

const NS = 'http://www.w3.org/2000/svg';
function mk(parent, tag, attrs, text) {
  const e = document.createElementNS(NS, tag);
  for (const k in attrs) e.setAttribute(k, attrs[k]);
  if (text !== undefined) e.textContent = text;
  parent.appendChild(e);
  return e;
}
const $ = id => document.getElementById(id);
const hx = c => [parseInt(c.slice(1,3),16),parseInt(c.slice(3,5),16),parseInt(c.slice(5,7),16)];
function mix(a,b,t){const A=hx(a),B=hx(b);t=Math.max(0,Math.min(1,t));return 'rgb('+A.map((v,i)=>Math.round(v+(B[i]-v)*t)).join(',')+')';}

/* ========== Volcano ========== */
(function(){
  const g = $('volcano');
  const X = v => 146.6 + v*56.2;
  const Y = v => 766 - v*7.89;
  const bg = mk(g,'rect',{x:39,y:588.5,width:200.5,height:186,fill:'#fff'});
  
  
  volcanoGridX.forEach((v,i)=>{
    const l = mk(g,'line',{x1:X(v),x2:X(v),y1:588.5,y2:774.5,stroke:'#ebebeb','stroke-width':i%2?1.6:.9});
    
    
  });
  volcanoGridY.forEach((v,i)=>{
    const l = mk(g,'line',{x1:39,x2:239.5,y1:Y(v),y2:Y(v),stroke:'#ebebeb','stroke-width':i%2?.9:1.6});
    
    
  });
  const shape = (pts,fill,name)=>{
    const s = mk(g,'polygon',{points:pts.map(p=>X(p[0])+','+Y(p[1])).join(' '),fill:fill,stroke:fill,'stroke-width':2,'stroke-linejoin':'round'});
    
    
  };
  shape(volcanoGrayOutline,'#bebebe','not-significant-cloud');
  shape(volcanoBlueOutline,'#0000dc','down-regulated-cloud');
  shape(volcanoRedOutline,'#e60000','up-regulated-cloud');
  const dots=(pts,fill,name)=>pts.forEach(p=>{
    const c = mk(g,'circle',{cx:X(p[0]),cy:Y(p[1]),r:2.2,fill:fill});
    
    
  });
  dots(volcanoBluePoints,'#0000dc','down-regulated-gene');
  dots(volcanoRedPoints,'#e60000','up-regulated-gene');
  const fr = mk(g,'rect',{x:39,y:588.5,width:200.5,height:186,fill:'none',stroke:'#555','stroke-width':1});
  
  
  volcanoXTicks.forEach(v=>{
    const t = mk(g,'text',{x:X(v),y:783,'font-size':6,'text-anchor':'middle',fill:'#555'},v===-1?'−1':String(v));
    
    
  });
  volcanoYTicks.forEach(v=>{
    const t = mk(g,'text',{x:35,y:Y(v)+2,'font-size':6,'text-anchor':'end',fill:'#555'},String(v));
    
    
  });
  const xt = mk(g,'text',{x:142,y:794,'font-size':10,'text-anchor':'middle',fill:'#222'},'logFC');
  
  
  const yt = mk(g,'text',{transform:'translate(24,680) rotate(-90)','font-size':10,'text-anchor':'middle',fill:'#222'},'−log10(adj.P.Val)');
  
  
})();

/* ========== Network ========== */
(function(){
  const g = $('network');
  const nx = c => 457 + c*9.88;
  const ny = r => 657 + r*5.5;
  const edges = mk(g,'g',{stroke:'#aaa','stroke-width':.18,opacity:.55});
  
  
  const hub = [521,591];
  networkCompounds.forEach((name,i)=>{
    const cx = nx(networkCompoundColumn[i]), cy = ny(networkCompoundRow[i]);
    const l = mk(edges,'line',{x1:hub[0],y1:hub[1],x2:cx,y2:cy});
    
    
    for (let n=0;n<networkTargetCount;n+=3){
      const e = mk(edges,'line',{x1:cx,y1:cy,x2:nx(n%networkColumns),y2:ny(Math.floor(n/networkColumns))});
      
      
    }
  });
  for (let n=0;n<networkTargetCount;n++){
    const t = mk(g,'ellipse',{cx:nx(n%networkColumns),cy:ny(Math.floor(n/networkColumns)),rx:3.7,ry:2.5,fill:'#3a80b0'});
    
    
  }
  const hex = mk(g,'polygon',{points:'496,591 505,580 537,580 546,591 537,601.6 505,601.6',fill:'#3cab5c'});
  
  
  const hl = mk(g,'text',{x:521,y:594,'font-size':8.5,'text-anchor':'middle',fill:'#1c3c24'},'Pueraria');
  
  
  networkCompounds.forEach((name,i)=>{
    const cx = nx(networkCompoundColumn[i]), cy = ny(networkCompoundRow[i]);
    const d = mk(g,'polygon',{points:(cx-18)+','+cy+' '+cx+','+(cy-10)+' '+(cx+18)+','+cy+' '+cx+','+(cy+10),fill:'#f0532a'});
    
    
    const t = mk(g,'text',{x:cx,y:cy+2,'font-size':6.8,'text-anchor':'middle',fill:'#333'},name);
    
    
  });
})();

/* ========== Heatmap ========== */
(function(){
  const g = $('heatmap');
  const rowY = i => 39.3 + i*6.49;
  const colX = j => 842.7 + j*20;
  const barW = v => v*43.75;
  const heatColor = v => v>=.7 ? mix('#ffffff','#f09a60',(v-.7)/.3) : mix('#ffffff','#2a7ab0',(.7-v)/.26);
  heatHeaderColors.forEach((c,j)=>{
    const r = mk(g,'rect',{x:colX(j),y:28.7,width:18.3,height:6.6,fill:c});
    
    
  });
  const cols = [heatCohortA,heatCohortB,heatCohortC,heatCohortD];
  heatModels.forEach((m,i)=>{
    const y = rowY(i);
    const t = mk(g,'text',{x:841.5,y:y+1.9,'font-size':5.5,'text-anchor':'end',fill:'#444'},m);
    
    
    cols.forEach((col,j)=>{
      const v = col[i];
      const r = mk(g,'rect',{x:colX(j),y:y-3,width:18.3,height:6,fill:heatColor(v),stroke:'#7a6e68','stroke-width':.45});
      
      
      const lbl = mk(g,'text',{x:colX(j)+9.15,y:y+1.5,'font-size':4.2,'text-anchor':'middle',fill:v<.5?'#dce8f0':'#444'},v.toFixed(3));
      
      
    });
    const b = mk(g,'rect',{x:922,y:y-2.9,width:barW(heatMean[i]),height:5.8,fill:'#3f7db5'});
    
    
    const bl = mk(g,'text',{x:922+barW(heatMean[i])/2,y:y+1.4,'font-size':3.8,'text-anchor':'middle',fill:'#cfe0f0'},String(+heatMean[i].toFixed(3)));
    
    
  });
  const ax = mk(g,'line',{x1:922,x2:961,y1:861,y2:861,stroke:'#555','stroke-width':.4});
  
  
  heatBarTicks.forEach(v=>{
    const t = mk(g,'text',{x:922+barW(v),y:866,'font-size':3.8,'text-anchor':'middle',fill:'#444'},String(v));
    
    
  });
})();

/* ========== ROC ========== */
(function(){
  const g = $('roc');
  const X = v => 1049 + v*214.7;
  const Y = v => 267.6 - v*214.3;
  const fr = mk(g,'rect',{x:1023.3,y:45,width:266.7,height:230.6,fill:'#fff',stroke:'#222','stroke-width':1});
  
  
  const plot = mk(g,'g',{'clip-path':'url(#roc-clip)',fill:'none'});
  
  
  const diag = mk(plot,'line',{x1:X(-.04),y1:Y(-.04),x2:X(1.04),y2:Y(1.04),stroke:'#aaa','stroke-width':.9});
  
  
  rocSeries.forEach((s,i)=>{
    const d = 'M'+s.map((v,k)=>X(rocFpr[k])+','+Y(v)).join(' L');
    const p = mk(plot,'path',{d:d,stroke:rocColors[i],'stroke-width':.95});
    
    
    const ky = 111.8 + i*10.59;
    const key = mk(g,'line',{x1:1219,x2:1233,y1:ky,y2:ky,stroke:rocColors[i],'stroke-width':1});
    
    
    const t = mk(g,'text',{x:1238.7,y:ky+2,'font-size':5.4,fill:'#444'},rocGenes[i]+', AUC='+rocAuc[i]);
    
    
  });
  rocTicks.forEach(v=>{
    const lx = mk(g,'line',{x1:X(v),x2:X(v),y1:275.6,y2:278.6,stroke:'#222','stroke-width':.8});
    
    
    const tx = mk(g,'text',{x:X(v),y:292,'font-size':10,'text-anchor':'middle',fill:'#222'},v.toFixed(1));
    
    
    const ly = mk(g,'line',{x1:1020.3,x2:1023.3,y1:Y(v),y2:Y(v),stroke:'#222','stroke-width':.8});
    
    
    const ty = mk(g,'text',{transform:'translate(1014,'+Y(v)+') rotate(-90)','font-size':10,'text-anchor':'middle',fill:'#222'},v.toFixed(1));
    
    
  });
  const xt = mk(g,'text',{x:1154,y:305,'font-size':11,'text-anchor':'middle',fill:'#222'},'1 − Specificity');
  
  
  const yt = mk(g,'text',{transform:'translate(997,161.6) rotate(-90)','font-size':11,'text-anchor':'middle',fill:'#222'},'Sensitivity');
  
  
})();

/* ========== DCA ========== */
(function(){
  const g = $('dca');
  const X = v => 1033.3 + v*246.7;
  const Y = v => 512.9 - v*334.4;
  dcaXTicks.slice(1,4).forEach(v=>{
    const l = mk(g,'line',{x1:X(v),x2:X(v),y1:321,y2:537,stroke:'#e6e6e6','stroke-width':.8});
    
    
  });
  dcaYTicks.forEach(v=>{
    const l = mk(g,'line',{x1:1033,x2:1289,y1:Y(v),y2:Y(v),stroke:'#e6e6e6','stroke-width':.8});
    
    
    const m = mk(g,'line',{x1:1023,x2:1033,y1:Y(v),y2:Y(v),stroke:'#333','stroke-width':.7});
    
    
    const t = mk(g,'text',{transform:'translate(1014,'+Y(v)+') rotate(-90)','font-size':10,'text-anchor':'middle',fill:'#222'},v.toFixed(1));
    
    
  });
  const path = (xs,ys,color,name,w)=>{
    const p = mk(g,'path',{d:'M'+xs.map((x,i)=>X(x)+','+Y(ys[i])).join(' L'),fill:'none',stroke:color,'stroke-width':w});
    
    
  };
  const none = mk(g,'line',{x1:X(-.04),x2:X(.6),y1:Y(0),y2:Y(0),stroke:'#333','stroke-width':1.1});
  
  
  path(dcaAllThresholds,dcaAllValues,'#aaaaaa','dca-all-line',1.2);
  dcaSeries.forEach((s,i)=>path(dcaThresholds,s,dcaColors[i],'dca-curve-'+dcaGenes[i].toLowerCase(),.95));
  const box = mk(g,'rect',{x:1178,y:321,width:111,height:216.5,fill:'#fff',stroke:'none'});
  
  
  const bl = mk(g,'line',{x1:1178,x2:1178,y1:321,y2:537.5,stroke:'#111','stroke-width':1.3});
  
  
  const br = mk(g,'line',{x1:1289,x2:1289,y1:321,y2:537.5,stroke:'#777','stroke-width':.9});
  
  
  dcaGenes.forEach((n,i)=>{
    const y = 325 + i*11.19;
    const k = mk(g,'line',{x1:1186.7,x2:1204,y1:y,y2:y,stroke:dcaColors[i],'stroke-width':1.1});
    
    
    const t = mk(g,'text',{x:1212,y:y+3.3,'font-size':9.6,fill:'#222'},n);
    
    
  });
  const ax = mk(g,'line',{x1:X(0),x2:X(1),y1:537.5,y2:537.5,stroke:'#222','stroke-width':.8});
  
  
  dcaXTicks.forEach(v=>{
    const m = mk(g,'line',{x1:X(v),x2:X(v),y1:537.5,y2:541,stroke:'#222','stroke-width':.8});
    
    
    const t = mk(g,'text',{x:X(v)+2,y:555,'font-size':10.5,'text-anchor':'middle',fill:'#222'},v.toFixed(1));
    
    
  });
  const xt = mk(g,'text',{x:1165,y:575,'font-size':10.5,'text-anchor':'middle',fill:'#222'},'Threshold Probability');
  
  
  const ax2 = mk(g,'line',{x1:X(dcaRatioAt[0]),x2:X(dcaRatioAt[5]),y1:582.6,y2:582.6,stroke:'#222','stroke-width':.8});
  
  
  dcaRatioLabels.forEach((r,i)=>{
    const m = mk(g,'line',{x1:X(dcaRatioAt[i]),x2:X(dcaRatioAt[i]),y1:582.6,y2:586.5,stroke:'#222','stroke-width':.8});
    
    
    const t = mk(g,'text',{x:X(dcaRatioAt[i])+2,y:602,'font-size':10.5,'text-anchor':'middle',fill:'#222'},r);
    
    
  });
  const ct = mk(g,'text',{x:1169,y:614,'font-size':10.5,'text-anchor':'middle',fill:'#222'},'Cost:Benefit Ratio');
  
  
  const yt = mk(g,'text',{transform:'translate(997,423) rotate(-90)','font-size':11,'text-anchor':'middle',fill:'#222'},'Net Benefit');
  
  
})();

/* ========== Boxplot ========== */
(function(){
  const g = $('boxplot');
  const X = i => 1018.2 + i*18.42;
  const Y = v => 718.3 - (v-10)*13.33;
  const drawSeries = (boxes,outs,off,fill,name)=>{
    boxes.forEach((b,i)=>{
      const cx = X(i)+off;
      const w = mk(g,'line',{x1:cx,x2:cx,y1:Y(b[4]),y2:Y(b[3]),stroke:'#222','stroke-width':.9});
      
      
      const r = mk(g,'rect',{x:cx-3.6,y:Y(b[2]),width:7.2,height:Y(b[0])-Y(b[2]),fill:fill,stroke:'#222','stroke-width':.8});
      
      
      const m = mk(g,'line',{x1:cx-3.6,x2:cx+3.6,y1:Y(b[1]),y2:Y(b[1]),stroke:'#111','stroke-width':1});
      
      
      outs[i].forEach(o=>{
        const c = mk(g,'circle',{cx:cx,cy:Y(o),r:1.75,fill:'#111'});
        
        
      });
    });
  };
  drawSeries(boxControl,boxControlOutliers,-3.8,'#2e6db4','control');
  drawSeries(boxTreat,boxTreatOutliers,3.8,'#e84d4d','treat');
  const axes = mk(g,'path',{d:'M1007.3,663 V834 H1324',fill:'none',stroke:'#222','stroke-width':1.1});
  
  
  boxGenes.forEach((n,i)=>{
    const s = mk(g,'text',{x:X(i),y:669,'font-size':8,'text-anchor':'middle',fill:'#222'},'***');
    
    
    const m = mk(g,'line',{x1:X(i),x2:X(i),y1:834,y2:836.5,stroke:'#222','stroke-width':.8});
    
    
    const t = mk(g,'text',{transform:'translate('+(X(i)+3)+',842) rotate(-45)','font-size':9.6,'text-anchor':'end',fill:'#222'},n);
    
    
  });
  boxYTicks.forEach(v=>{
    const m = mk(g,'line',{x1:1004.5,x2:1007.3,y1:Y(v),y2:Y(v),stroke:'#222','stroke-width':.8});
    
    
    const t = mk(g,'text',{x:1003,y:Y(v)+3.5,'font-size':9.8,'text-anchor':'end',fill:'#222'},String(v));
    
    
  });
  const yt = mk(g,'text',{transform:'translate(988,748) rotate(-90)','font-size':10,'text-anchor':'middle',fill:'#222'},'Gene expression');
  
  
  const lt = mk(g,'text',{x:1109,y:655,'font-size':9.8,fill:'#222'},'Type');
  
  
  [['Control','#2e6db4',1135.7,1154],['Treat','#e84d4d',1186,1204]].forEach(e=>{
    const r = mk(g,'rect',{x:e[2],y:647,width:11,height:8,fill:e[1],stroke:'#222','stroke-width':.8});
    
    
    const l = mk(g,'line',{x1:e[2],x2:e[2]+11,y1:651,y2:651,stroke:'#111','stroke-width':.8});
    
    
    const t = mk(g,'text',{x:e[3],y:654.5,'font-size':8.2,fill:'#222'},e[0]);
    
    
  });
})();

/* ========== Feature importance ========== */
(function(){
  const g = $('importance');
  const X = v => 789.6 + v*3100;
  const Y = i => 912.7 + i*11.67;
  const t0 = mk(g,'text',{x:872,y:901,'font-size':7.5,'text-anchor':'middle',fill:'#333'},'Feature Importance');
  
  
  shapGenes.forEach((n,i)=>{
    const l = mk(g,'line',{x1:781.7,x2:957,y1:Y(i),y2:Y(i),stroke:'#eeeeee','stroke-width':1.2});
    
    
    const b = mk(g,'rect',{x:X(0)-.8,y:Y(i)-4,width:X(shapImportance[i])-X(0)+.8,height:8,fill:'#c93a2b'});
    
    
    const v = mk(g,'text',{x:X(shapImportance[i])+2,y:Y(i)+1.7,'font-size':4.6,fill:'#333'},shapImportance[i].toFixed(4));
    
    
    const t = mk(g,'text',{x:779.5,y:Y(i)+2.5,'font-size':7.2,'text-anchor':'end',fill:'#555'},n);
    
    
  });
  const fr = mk(g,'rect',{x:781.7,y:905.7,width:175.6,height:176.6,fill:'none',stroke:'#777','stroke-width':.9});
  
  
  importanceTicks.forEach(v=>{
    const t = mk(g,'text',{x:X(v),y:1091,'font-size':6.5,'text-anchor':'middle',fill:'#555'},v.toFixed(2));
    
    
  });
  const xt = mk(g,'text',{x:874,y:1100,'font-size':7.4,'text-anchor':'middle',fill:'#333'},'mean(|SHAP value|)');
  
  
})();

/* ========== SHAP ========== */
(function(){
  const g = $('shap');
  const X = v => 1193.4 + v*333;
  const Y = i => 914 + i*11.55;
  shapTicks.forEach(v=>{
    const l = mk(g,'line',{x1:X(v),x2:X(v),y1:907.7,y2:1082.3,stroke:'#e4e4e4','stroke-width':.8});
    
    
    const t = mk(g,'text',{x:X(v),y:1091,'font-size':6.5,'text-anchor':'middle',fill:'#555'},v===0?'0.0':(v<0?'−':'')+Math.abs(v).toFixed(1));
    
    
  });
  const ramp = t => t<.33?mix('#35106a','#a02a78',t/.33):t<.66?mix('#a02a78','#e8503c',(t-.33)/.33):mix('#e8503c','#fcae2c',(t-.66)/.34);
  const colOff = [-2.2,0,2.2];
  shapGenes.forEach((n,i)=>{
    const l = mk(g,'line',{x1:1093.3,x2:1261,y1:Y(i),y2:Y(i),stroke:'#eeeeee','stroke-width':1.1});
    
    
    shapCounts[i].forEach((count,b)=>{
      const x0 = X(shapBins[b]);
      for (let k=0;k<count;k++){
        const col = count<3 ? (k%2?1:-1)*(count>1?1.5:0) : colOff[k%3];
        const level = Math.floor(k/3), per = Math.ceil(count/3);
        const dy = (level-(per-1)/2)*1.55 + (k%3===1?.5:0);
        const shade = .74 + shapDirection[i]*shapBins[b]*7 + ((k%5)-2)*.035;
        const c = mk(g,'circle',{cx:x0+col,cy:Y(i)+dy,r:1.3,fill:ramp(Math.max(0,Math.min(1,shade)))});
        
        
      }
    });
    const v = mk(g,'text',{x:1104.5,y:Y(i)+1.6,'font-size':4.3,fill:'#444'},shapImportance[i].toFixed(4));
    
    
    const t = mk(g,'text',{x:1089.5,y:Y(i)+2.5,'font-size':7.2,'text-anchor':'end',fill:'#555'},n);
    
    
  });
  const fr = mk(g,'path',{d:'M1093.3,907.7 H1261 V1082.3 H1093.3 Z',fill:'none',stroke:'#999','stroke-width':.9});
  
  
  const xt = mk(g,'text',{x:1180,y:1100,'font-size':6.6,'text-anchor':'middle',fill:'#333'},'SHAP value');
  
  
  const bar = mk(g,'rect',{x:1276.5,y:970,width:2.8,height:50,fill:'url(#shap-gradient)'});
  
  
  const hi = mk(g,'text',{x:1281,y:971,'font-size':3.8,fill:'#444'},'High');
  
  
  const lo = mk(g,'text',{x:1281,y:1022,'font-size':3.8,fill:'#444'},'Low');
  
  
  const ft = mk(g,'text',{transform:'translate(1272,995) rotate(-90)','font-size':4.2,'text-anchor':'middle',fill:'#444'},'Feature value');
  
  
})();

/* ========== MR scatter ========== */
(function(){
  const g = $('mrscatter');
  const X = v => 1460.4 + (v-.1)*1189;
  const Y = v => 181.7 - v*29;
  const bg = mk(g,'rect',{x:1403.8,y:83.3,width:189.7,height:148.4,fill:'#e8e8e8'});
  
  
  mrXTicks.forEach(v=>{
    const l = mk(g,'line',{x1:X(v),x2:X(v),y1:83.3,y2:231.7,stroke:'#fff','stroke-width':1.1});
    
    
    const l2 = mk(g,'line',{x1:X(v+.025),x2:X(v+.025),y1:83.3,y2:231.7,stroke:'#fff','stroke-width':.5});
    
    
    const t = mk(g,'text',{x:X(v),y:239,'font-size':5.6,'text-anchor':'middle',fill:'#555'},v.toFixed(2));
    
    
  });
  mrYTicks.forEach((v,i)=>{
    const l = mk(g,'line',{x1:1403.8,x2:1593.5,y1:Y(v),y2:Y(v),stroke:'#fff','stroke-width':1.1});
    
    
    const l2 = mk(g,'line',{x1:1403.8,x2:1593.5,y1:Y(v+.5),y2:Y(v+.5),stroke:'#fff','stroke-width':.5});
    
    
    const t = mk(g,'text',{x:1401,y:Y(v)+1.8,'font-size':5.4,'text-anchor':'end',fill:'#555'},mrYLabels[i]);
    
    
  });
  mrSnpX.forEach((x,i)=>{
    const h = mk(g,'line',{x1:X(x-mrSnpXErr[i]),x2:X(x+mrSnpXErr[i]),y1:Y(mrSnpY[i]),y2:Y(mrSnpY[i]),stroke:'#b2b2b2','stroke-width':1.4});
    
    
    const v = mk(g,'line',{x1:X(x),x2:X(x),y1:Y(mrSnpY[i]-mrSnpYErr[i]),y2:Y(mrSnpY[i]+mrSnpYErr[i]),stroke:'#b2b2b2','stroke-width':1.4});
    
    
  });
  mrMethods.forEach((m,i)=>{
    const l = mk(g,'line',{x1:X(mrLineDomain[0]),x2:X(mrLineDomain[1]),y1:Y(mrLeftValue[i]),y2:Y(mrRightValue[i]),stroke:mrColors[i],'stroke-width':2.1});
    
    
  });
  mrSnpX.forEach((x,i)=>{
    const c = mk(g,'circle',{cx:X(x),cy:Y(mrSnpY[i]),r:1.3,fill:'#111'});
    
    
  });
  const lt = mk(g,'text',{x:1454,y:59,'font-size':5.6,fill:'#333'},'MR Estimate');
  
  
  [[1,1454,66],[2,1454,73],[3,1454,79],[0,1506,66],[4,1506,73]].forEach(e=>{
    const k = mk(g,'line',{x1:e[1],x2:e[1]+7,y1:e[2]+3,y2:e[2]-3,stroke:mrColors[e[0]],'stroke-width':2});
    
    
    const t = mk(g,'text',{x:e[1]+9.5,y:e[2]+1.4,'font-size':3.9,fill:'#444'},mrMethods[e[0]]);
    
    
  });
  const xt = mk(g,'text',{x:1496.5,y:246,'font-size':5.8,'text-anchor':'middle',fill:'#333'},'SNP effect on PFKFB3 || id:eqtl-a-ENSG00000170525');
  
  
  const yt = mk(g,'text',{transform:'translate(1377.5,155) rotate(-90)','font-size':5.8,'text-anchor':'middle',fill:'#333'},"SNP effect on Alzheimer's disease || id:ieu-b-5067");
  
  
})();

/* ========== Forest ========== */
(function(){
  const g = $('forest');
  const X = v => 1783.5 + v*19450;
  const rowY = [86.7,103.3,120,137,153.3,170,187.7,203.7,220.7];
  const bg = mk(g,'rect',{x:1711.6,y:76.7,width:160.4,height:155,fill:'#e8e8e8'});
  
  
  forestTicks.forEach(v=>{
    const l = mk(g,'line',{x1:X(v),x2:X(v),y1:76.7,y2:231.7,stroke:'#fff','stroke-width':.9});
    
    
    const t = mk(g,'text',{x:X(v),y:239,'font-size':5.8,'text-anchor':'middle',fill:'#555'},(v<0?'−':'')+Math.abs(v).toFixed(3));
    
    
  });
  forestLabels.forEach((n,i)=>{
    const gl = mk(g,'line',{x1:1711.6,x2:1872,y1:rowY[i],y2:rowY[i],stroke:i===6?'#aaaaaa':'#fff','stroke-width':.9});
    
    
  });
  const z = mk(g,'line',{x1:X(0),x2:X(0),y1:76.7,y2:231.7,stroke:'#111','stroke-width':1,'stroke-dasharray':'2.2 14.4'});
  
  
  forestLabels.forEach((n,i)=>{
    if (forestEstimate[i]===null) return;
    const color = i>6 ? '#d82020' : '#222';
    const l = mk(g,'line',{x1:X(forestLow[i]),x2:X(forestHigh[i]),y1:rowY[i],y2:rowY[i],stroke:color,'stroke-width':.95});
    
    
    const c = mk(g,'circle',{cx:X(forestEstimate[i]),cy:rowY[i],r:1.25,fill:color});
    
    
    const t = mk(g,'text',{x:1708.5,y:rowY[i]+2,'font-size':6.2,'text-anchor':'end',fill:'#555'},n);
    
    
  });
  const a = mk(g,'text',{x:1802,y:246,'font-size':5.8,'text-anchor':'middle',fill:'#333'},'MR effect size for');
  
  
  const b = mk(g,'text',{x:1799,y:252,'font-size':5.8,'text-anchor':'middle',fill:'#333','xml:space':'preserve'},"PFKFB3  on Alzheimer's disease");
  
  
})();

/* ========== Binding energy ========== */
(function(){
  const g = $('binding');
  const X = v => 1725 + v*13.35;
  const Y = i => 366.7 + i*34;
  bindingTicks.forEach(v=>{
    const l = mk(g,'line',{x1:X(v),x2:X(v),y1:346,y2:455,stroke:'#dedede','stroke-width':1.6,'stroke-dasharray':'5 7'});
    
    
    const t = mk(g,'text',{x:X(v),y:463,'font-size':6.2,'text-anchor':'middle',fill:'#444'},String(v));
    
    
  });
  const ax = mk(g,'line',{x1:1725,x2:1725,y1:346,y2:456,stroke:'#444','stroke-width':1});
  
  
  bindingPairs.forEach((n,i)=>{
    const b = mk(g,'rect',{x:1727,y:Y(i)-10.7,width:X(bindingValues[i])-1727,height:21.4,fill:bindingColors[i]});
    
    
    const t = mk(g,'text',{x:1719.8,y:Y(i)+3.8,'font-size':12,'text-anchor':'end',fill:'#333'},n);
    
    
    const v = mk(g,'text',{x:X(bindingValues[i])+3,y:Y(i)+4.5,'font-size':12.5,fill:'#333'},'−'+bindingValues[i].toFixed(1));
    
    
  });
  const tt = mk(g,'text',{x:1799,y:331,'font-size':11.5,'font-weight':700,'text-anchor':'middle',fill:'#222'},'Binding Energy');
  
  
  const st = mk(g,'text',{x:1798,y:344,'font-size':6.8,'text-anchor':'middle',fill:'#888'},'Negative values indicate favorable binding');
  
  
  const xt = mk(g,'text',{x:1800.5,y:477,'font-size':12,'text-anchor':'middle',fill:'#333'},'Binding Energy (kcal/mol)');
  
  
})();

/* ========== Morris latency ========== */
(function(){
  const g = $('morris');
  const X = v => 1416.5 + v*23.6;
  const Y = v => 667.3 - (v-50)*2.75;
  const axes = mk(g,'path',{d:'M'+X(0)+','+Y(90)+' V'+Y(50)+' H'+X(7),fill:'none',stroke:'#111','stroke-width':1.3});
  
  
  morrisXTicks.forEach(v=>{
    const m = mk(g,'line',{x1:X(v),x2:X(v),y1:Y(50),y2:Y(50)+3.5,stroke:'#111','stroke-width':1.1});
    
    
    const t = mk(g,'text',{x:X(v),y:682,'font-size':8.2,'font-weight':700,'text-anchor':'middle',fill:'#111'},String(v));
    
    
  });
  morrisYTicks.forEach(v=>{
    const m = mk(g,'line',{x1:X(0)-4,x2:X(0),y1:Y(v),y2:Y(v),stroke:'#111','stroke-width':1.1});
    
    
    const t = mk(g,'text',{x:X(0)-5.5,y:Y(v)+3,'font-size':8.2,'font-weight':700,'text-anchor':'end',fill:'#111'},String(v));
    
    
  });
  const yt = mk(g,'text',{transform:'translate(1395,611.7) rotate(-90)','font-size':10,'font-weight':700,'text-anchor':'middle',fill:'#111'},'Latency (s)');
  
  
  const marker = (cx,cy,i)=>{
    const c = morrisColors[i];
    let m;
    if (i===0) m = mk(g,'circle',{cx:cx,cy:cy,r:2.3,fill:c});
    else if (i===1) m = mk(g,'rect',{x:cx-2.1,y:cy-2.1,width:4.2,height:4.2,fill:c});
    else if (i===2) m = mk(g,'polygon',{points:(cx-2.4)+','+(cy+2)+' '+(cx+2.4)+','+(cy+2)+' '+cx+','+(cy-2.4),fill:c});
    else if (i===3) m = mk(g,'polygon',{points:(cx-2.4)+','+(cy-2)+' '+(cx+2.4)+','+(cy-2)+' '+cx+','+(cy+2.4),fill:c});
    else m = mk(g,'polygon',{points:cx+','+(cy-2.3)+' '+(cx+2.3)+','+cy+' '+cx+','+(cy+2.3)+' '+(cx-2.3)+','+cy,fill:c});
    
    
  };
  morrisSeries.forEach((s,i)=>{
    const c = morrisColors[i];
    const p = mk(g,'polyline',{points:s.map((v,k)=>X(morrisDays[k])+','+Y(v)).join(' '),fill:'none',stroke:c,'stroke-width':.9});
    
    
    s.forEach((v,k)=>{
      const x = X(morrisDays[k]), e = morrisError[i];
      const b = mk(g,'path',{d:'M'+x+','+Y(v-e)+' V'+Y(v+e)+' M'+(x-2)+','+Y(v+e)+' h4 M'+(x-2)+','+Y(v-e)+' h4',fill:'none',stroke:c,'stroke-width':.7});
      
      
      marker(x,Y(v),i);
    });
    const ly = [548.3,559.7,571.7,583.3,595.3][i];
    const lk = mk(g,'line',{x1:1570,x2:1580,y1:ly,y2:ly,stroke:c,'stroke-width':.9});
    
    
    marker(1575,ly,i);
    const t = mk(g,'text',{x:1588,y:ly+2.8,'font-size':7.8,fill:'#333'},morrisGroups[i]);
    
    
  });
  [[3,'#',592],[4,'#',588],[5,'##',590.5],[6,'##',593.5]].forEach(e=>{
    const t = mk(g,'text',{x:X(e[0]),y:e[2],'font-size':7.6,'font-weight':700,'text-anchor':'middle',fill:'#222'},e[1]);
    
    
  });
  [[4,'#e83030',637.5,'*'],[5,'#2020e0',642,'*'],[5,'#20e020',648,'*'],[5,'#e83030',654,'*'],[6,'#2020e0',649,'*'],[6,'#20e020',655.3,'*'],[6,'#e83030',661.5,'**']].forEach(e=>{
    const t = mk(g,'text',{x:X(e[0]),y:e[2],'font-size':8,'font-weight':700,'text-anchor':'middle',fill:e[1]},e[3]);
    
    
  });
  const br = mk(g,'path',{d:'M1564,646 h3 v7 h-3 M1564,654 h3 v7 h-3 M1577,646 h3 v15 h-3',fill:'none',stroke:'#444','stroke-width':.6});
  
  
  [[1572,652],[1572,659.5],[1584.6,656]].forEach(e=>{
    const t = mk(g,'text',{x:e[0],y:e[1],'font-size':6,'text-anchor':'middle',fill:'#444'},'ns');
    
    
  });
})();

/* ========== Maze ========== */
(function(){
  const g = $('maze');
  const cxs = [1726.9,1808.3,1695.4,1771,1849];
  const cys = [573.3,573.3,649.3,649.3,649.3];
  const tys = [539.5,539.5,615,615,615];
  const R = 30;
  mazeTitles.forEach((n,i)=>{
    const cx = cxs[i], cy = cys[i];
    const sec = (x0,y0,x1,y1,f,name,sw)=>{
      const s = mk(g,'path',{d:'M'+cx+','+cy+' L'+(cx+x0*R)+','+(cy+y0*R)+' A'+R+','+R+' 0 0 '+sw+' '+(cx+x1*R)+','+(cy+y1*R)+' Z',fill:f});
      
      
    };
    sec(-1,0,0,-1,'#a8a8a8','maze-quadrant-1',1);
    sec(0,-1,1,0,'#c6c6c6','maze-quadrant-2',1);
    sec(1,0,0,1,'#eeeeee','maze-quadrant-3',1);
    sec(0,1,-1,0,'#707070','maze-quadrant-4',1);
    const rim = mk(g,'circle',{cx:cx,cy:cy,r:R,fill:'none',stroke:'#888','stroke-width':.7});
    
    
    const plat = mk(g,'circle',{cx:cx+R*.42,cy:cy+R*.55,r:2.6,fill:'none',stroke:'#80b090','stroke-width':.6});
    
    
    const pts = mazeTracks[i].map(p=>[cx+p[0]*R,cy+p[1]*R]);
    let d = 'M'+pts[0][0]+','+pts[0][1];
    for (let k=1;k<pts.length-1;k++){
      const mx=(pts[k][0]+pts[k+1][0])/2, my=(pts[k][1]+pts[k+1][1])/2;
      d += ' Q'+pts[k][0]+','+pts[k][1]+' '+mx+','+my;
    }
    const tr = mk(g,'path',{d:d,fill:'none',stroke:'#d83c3c','stroke-width':.7});
    
    
    const t = mk(g,'text',{x:cx,y:tys[i],'font-size':6.6,'text-anchor':'middle',fill:'#333'},n);
    
    
    [['Quadrant I',-R-2,-R+6,'end'],['Quadrant II',R+2,-R+6,'start'],['Quadrant IV',-R-2,R-5,'end'],['Quadrant III',R+2,R-5,'start']].forEach(q=>{
      const l = mk(g,'text',{x:cx+q[1],y:cy+q[2],'font-size':2.6,'text-anchor':q[3],fill:'#666'},q[0]);
      
      
    });
  });
})();

/* ========== Microscopy (image texture, not chart data) ========== */
(function(){
  const g = $('micro');
  const colX = [1477.3,1577.7,1677.7];
  const rowY = [725,801,876.7,952.7,1028.3];
  const W = 97.5, H = 73;
  const rowNames = ['WT','AD','AD+Daidzein','AD+Formononetin','AD+Tuberosin'];
  const colNames = ['NeuN','DAPI','Merge'];
  const labelY = [761.7,837.3,913.3,988.3,1067.7];
  const bands = [
    [[0,.42],[.12,.22],[.5,.14],[.82,.2],[1,.31]],
    [[0,.55],[.3,.48],[.6,.42],[1,.5]],
    [[0,.36],[.3,.3],[.7,.38],[1,.52]],
    [[0,.4],[.3,.3],[.6,.25],[1,.36]],
    [[0,.42],[.3,.3],[.6,.26],[1,.26]]
  ];
  const bandW = [8.5,4.2,4.2,5.2,6];
  const bandOp = [.95,.55,.75,.8,.95];
  let seed = 12345;
  const rnd = () => (seed = (seed*1103515245+12345) & 0x7fffffff) / 0x7fffffff;
  const curve = (pts,x0,y0) => {
    const P = pts.map(p=>[x0+p[0]*W,y0+p[1]*H]);
    let d='M'+P[0][0]+','+P[0][1];
    for (let k=1;k<P.length-1;k++){ const mx=(P[k][0]+P[k+1][0])/2,my=(P[k][1]+P[k+1][1])/2; d+=' Q'+P[k][0]+','+P[k][1]+' '+mx+','+my; }
    const L=P[P.length-1]; d+=' L'+L[0]+','+L[1];
    return d;
  };
  colNames.forEach((c,j)=>{
    const t = mk(g,'text',{x:colX[j]+W/2,y:721,'font-size':8.6,'text-anchor':'middle',fill:'#222'},c);
    
    
  });
  rowNames.forEach((r,i)=>{
    const t = mk(g,'text',{transform:'translate(1469,'+labelY[i]+') rotate(-90)','font-size':8.6,'text-anchor':'middle',fill:'#222'},r);
    
    
    colNames.forEach((c,j)=>{
      const x0 = colX[j], y0 = rowY[i];
      const clipId = 'micro-'+i+'-'+j;
      const cp = mk(g,'clipPath',{id:clipId});
      mk(cp,'rect',{x:x0,y:y0,width:W,height:H});
      const pane = mk(g,'g',{'clip-path':'url(#'+clipId+')'});
      
      
      const base = mk(pane,'rect',{x:x0,y:y0,width:W,height:H,fill:j===1?'#00000e':(j===0?'#1c0202':'#1a0210')});
      
      
      const dots = (n,color,op,sz)=>{
        let d='';
        for(let k=0;k<n;k++){const px=x0+rnd()*W,py=y0+rnd()*H,s=sz*(.5+rnd());d+='M'+px.toFixed(1)+','+py.toFixed(1)+'h'+s.toFixed(1)+'v'+s.toFixed(1)+'h-'+s.toFixed(1)+'z';}
        const s = mk(pane,'path',{d:d,fill:color,opacity:op});
        
        
      };
      if (j!==1) dots(260+i*20,'#a81212',.75,1);
      if (j!==0) dots(260+(i%2)*140,'#2436d0',.8,.9);
      const bandD = curve(bands[i],x0,y0);
      const colors = ['#e01418','#1a2cd8','#e8108f'];
      const b0 = mk(pane,'path',{d:bandD,fill:'none',stroke:j===1?'#0e18a0':'#a01010','stroke-width':bandW[i]+3,opacity:.45,filter:'url(#blur1)'});
      
      
      const b1 = mk(pane,'path',{d:bandD,fill:'none',stroke:colors[j],'stroke-width':bandW[i],opacity:j===1?bandOp[i]*.75:bandOp[i],filter:'url(#blur1)'});
      
      
      if (i===1 && j!==1) {
        const a = mk(pane,'ellipse',{cx:x0+18,cy:y0+H+2,rx:18,ry:11,fill:'none',stroke:'#d82020','stroke-width':.8});
        
        
      }
    });
  });
})();
</script>
</body>
</html>
